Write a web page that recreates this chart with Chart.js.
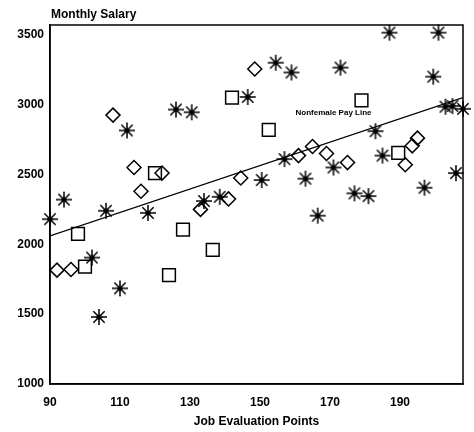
<!DOCTYPE html>
<html lang="en">
<head>
<meta charset="UTF-8">
<title>Monthly Salary</title>
<script src="https://cdn.jsdelivr.net/npm/chart.js"></script>
<style>
  html, body { margin: 0; padding: 0; background: #fff; }
</style>
</head>
<body>
<canvas id="salaryChart" width="474" height="432"></canvas>
<script>
// job evaluation points and monthly salary, one pair of arrays per marker group
const starPoints = [90, 94, 102, 104, 106, 110, 112, 118, 126, 130.5, 134, 138.5, 146.5, 150.5, 154.5, 157, 159, 163, 166.5, 171, 173, 177, 181, 183, 185, 187, 197, 199.5, 201, 203, 205, 206, 208];
const starSalary = [2180, 2320, 1905, 1480, 2240, 1685, 2815, 2225, 2965, 2945, 2310, 2340, 3055, 2460, 3300, 2610, 3230, 2470, 2205, 2550, 3265, 2365, 2345, 2810, 2635, 3515, 2405, 3200, 3515, 2985, 2990, 2510, 2970];

const diamondPoints = [92, 96, 108, 114, 116, 122, 133, 141, 144.5, 148.5, 161, 165, 169, 175, 191.5, 193.5, 195];
const diamondSalary = [1815, 1820, 2925, 2550, 2380, 2510, 2250, 2325, 2475, 3255, 2635, 2700, 2650, 2585, 2570, 2705, 2760];

const squarePoints = [98, 100, 120, 124, 128, 136.5, 142, 152.5, 179, 189.5];
const squareSalary = [2075, 1840, 2510, 1780, 2105, 1960, 3050, 2820, 3030, 2655];

// pay line end points
const payLineX = [90, 208];
const payLineY = [2060, 3050];

const xTicks = [90, 110, 130, 150, 170, 190];
const yTicks = [1000, 1500, 2000, 2500, 3000, 3500];

const toXY = (xs, ys) => xs.map((x, i) => ({ x: x, y: ys[i] }));

const FONT = "'Liberation Sans', Arial, sans-serif";

// asterisk marker: eight spokes with a solid hub
function makeAsterisk(r) {
  const c = document.createElement('canvas');
  const s = 2 * r + 4;
  c.width = s;
  c.height = s;
  const g = c.getContext('2d');
  const m = s / 2;
  g.strokeStyle = '#000';
  g.lineWidth = 1.5;
  g.beginPath();
  for (let k = 0; k < 4; k++) {
    const t = k * Math.PI / 4;
    g.moveTo(m - r * Math.cos(t), m - r * Math.sin(t));
    g.lineTo(m + r * Math.cos(t), m + r * Math.sin(t));
  }
  g.stroke();
  g.fillStyle = '#000';
  g.beginPath();
  g.arc(m, m, 2.6, 0, Math.PI * 2);
  g.fill();
  return c;
}

// frame, y title and line label
const extras = {
  id: 'extras',
  afterDatasetsDraw(chart) {
    const { ctx, chartArea: a, scales } = chart;
    ctx.save();
    ctx.strokeStyle = '#000';
    ctx.lineWidth = 1.5;
    ctx.strokeRect(a.left, a.top, a.right - a.left, a.bottom - a.top);

    ctx.fillStyle = '#000';
    ctx.font = 'bold 12px ' + FONT;
    ctx.textAlign = 'left';
    ctx.textBaseline = 'middle';
    ctx.fillText('Monthly Salary', a.left + 1, a.top - 10);

    ctx.font = 'bold 8px ' + FONT;
    ctx.textAlign = 'center';
    ctx.fillText('Nonfemale Pay Line', scales.x.getPixelForValue(171), scales.y.getPixelForValue(2945));
    ctx.restore();
  }
};

const tickFont = { family: FONT, size: 12, weight: 'bold' };

new Chart(document.getElementById('salaryChart'), {
  type: 'scatter',
  data: {
    datasets: [
      {
        data: toXY(starPoints, starSalary),
        pointStyle: makeAsterisk(8),
        pointRadius: 8,
        clip: false
      },
      {
        data: toXY(diamondPoints, diamondSalary),
        pointStyle: 'rectRot',
        pointRadius: 7,
        borderColor: '#000',
        borderWidth: 1.5,
        backgroundColor: 'rgba(0,0,0,0)',
        clip: false
      },
      {
        data: toXY(squarePoints, squareSalary),
        pointStyle: 'rect',
        pointRadius: 9,
        borderColor: '#000',
        borderWidth: 1.5,
        backgroundColor: 'rgba(0,0,0,0)',
        clip: false
      },
      {
        data: toXY(payLineX, payLineY),
        showLine: true,
        pointRadius: 0,
        borderColor: '#000',
        borderWidth: 1.2,
        fill: false
      }
    ]
  },
  options: {
    responsive: false,
    animation: false,
    layout: { padding: { top: 25, right: 11, left: 0, bottom: 0 } },
    plugins: {
      legend: { display: false },
      tooltip: { enabled: false }
    },
    scales: {
      x: {
        type: 'linear',
        min: 90,
        max: 208,
        afterBuildTicks: axis => { axis.ticks = xTicks.map(v => ({ value: v })); },
        afterFit: axis => { axis.height = 48; },
        grid: { display: false, drawTicks: false },
        border: { color: '#000', width: 1.5 },
        ticks: { color: '#000', padding: 11, maxRotation: 0, font: tickFont, callback: v => String(v) },
        title: {
          display: true,
          text: 'Job Evaluation Points',
          color: '#000',
          padding: { top: 0, bottom: 3 },
          font: tickFont
        }
      },
      y: {
        type: 'linear',
        min: 1000,
        max: 3570,
        afterBuildTicks: axis => { axis.ticks = yTicks.map(v => ({ value: v })); },
        afterFit: axis => { axis.width = 50; },
        grid: { display: false, drawTicks: false },
        border: { color: '#000', width: 1.5 },
        ticks: { color: '#000', padding: 6, font: tickFont, callback: v => String(v) }
      }
    }
  },
  plugins: [extras]
});
</script>
</body>
</html>
